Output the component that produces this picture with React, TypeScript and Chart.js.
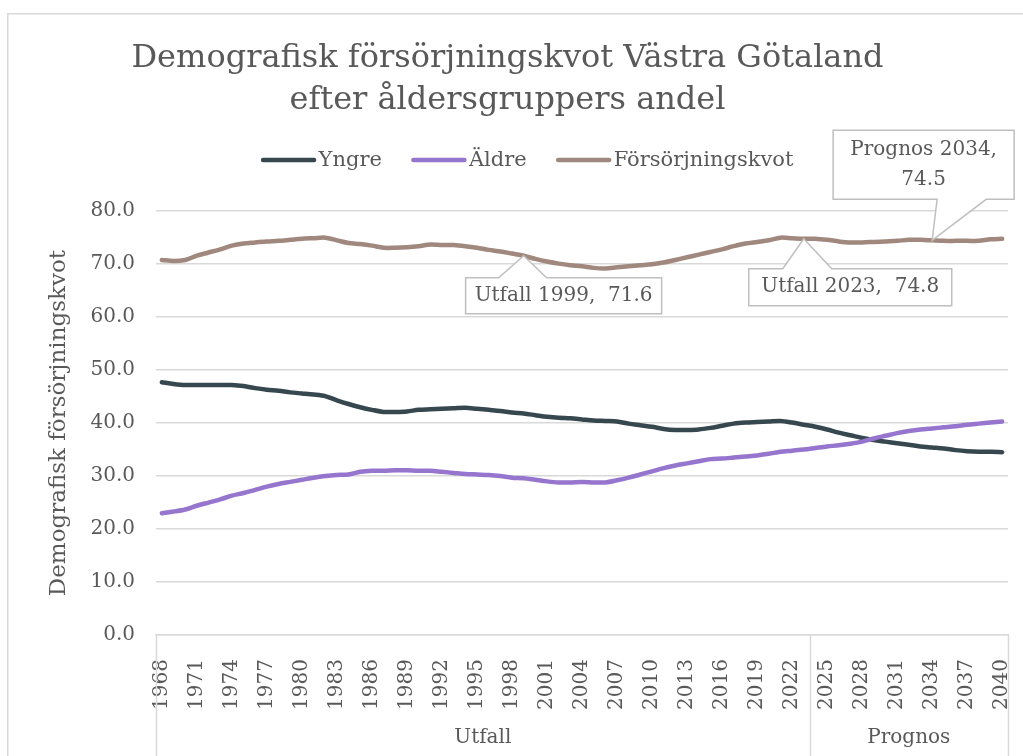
import React, { useEffect, useRef } from 'react';
import { Chart, registerables } from 'chart.js';

Chart.register(...registerables);

// ---------- data ----------
const years = [
  1968, 1969, 1970, 1971, 1972, 1973, 1974, 1975, 1976, 1977,
  1978, 1979, 1980, 1981, 1982, 1983, 1984, 1985, 1986, 1987,
  1988, 1989, 1990, 1991, 1992, 1993, 1994, 1995, 1996, 1997,
  1998, 1999, 2000, 2001, 2002, 2003, 2004, 2005, 2006, 2007,
  2008, 2009, 2010, 2011, 2012, 2013, 2014, 2015, 2016, 2017,
  2018, 2019, 2020, 2021, 2022, 2023, 2024, 2025, 2026, 2027,
  2028, 2029, 2030, 2031, 2032, 2033, 2034, 2035, 2036, 2037,
  2038, 2039, 2040,
];

const yngre = [
  47.7, 47.4, 47.2, 47.2, 47.2, 47.2, 47.2, 47.0, 46.6, 46.3,
  46.1, 45.8, 45.6, 45.4, 45.1, 44.3, 43.6, 43.0, 42.5, 42.1,
  42.1, 42.2, 42.5, 42.6, 42.7, 42.8, 42.9, 42.7, 42.5, 42.3,
  42.0, 41.8, 41.5, 41.2, 41.0, 40.9, 40.7, 40.5, 40.4, 40.3,
  39.9, 39.6, 39.3, 38.9, 38.7, 38.7, 38.8, 39.1, 39.5, 39.9,
  40.1, 40.2, 40.3, 40.4, 40.1, 39.7, 39.3, 38.8, 38.2, 37.7,
  37.2, 36.8, 36.5, 36.2, 35.9, 35.6, 35.4, 35.2, 34.9, 34.7,
  34.6, 34.6, 34.5,
];

const aldre = [
  23.0, 23.3, 23.7, 24.4, 25.0, 25.6, 26.3, 26.8, 27.4, 28.0,
  28.5, 28.9, 29.3, 29.7, 30.0, 30.2, 30.3, 30.8, 31.0, 31.0,
  31.1, 31.1, 31.0, 31.0, 30.8, 30.6, 30.4, 30.3, 30.2, 30.0,
  29.7, 29.6, 29.3, 29.0, 28.8, 28.8, 28.9, 28.8, 28.8, 29.2,
  29.7, 30.3, 30.9, 31.5, 32.0, 32.4, 32.8, 33.2, 33.3, 33.5,
  33.7, 33.9, 34.2, 34.6, 34.8, 35.0, 35.3, 35.6, 35.8, 36.1,
  36.5, 37.1, 37.6, 38.1, 38.5, 38.8, 39.0, 39.2, 39.4, 39.7,
  39.9, 40.1, 40.3,
];

const kvot = [
  70.8, 70.6, 70.8, 71.6, 72.2, 72.8, 73.5, 73.9, 74.1, 74.3,
  74.4, 74.6, 74.8, 74.9, 75.0, 74.5, 74.0, 73.8, 73.5, 73.1,
  73.1, 73.2, 73.4, 73.7, 73.6, 73.6, 73.4, 73.1, 72.7, 72.4,
  72.0, 71.6, 71.0, 70.5, 70.1, 69.8, 69.6, 69.3, 69.2, 69.4,
  69.6, 69.8, 70.0, 70.3, 70.8, 71.3, 71.8, 72.3, 72.8, 73.4,
  73.9, 74.2, 74.5, 75.0, 74.9, 74.8, 74.8, 74.6, 74.3, 74.1,
  74.1, 74.2, 74.3, 74.4, 74.6, 74.6, 74.5, 74.4, 74.4, 74.4,
  74.4, 74.7, 74.8,
];

const seriesNames = ['Yngre', 'Äldre', 'Försörjningskvot'];
const groupLabels = ['Utfall', 'Prognos'];
const groupStartYears = [1968, 2024];
const yTickValues = [0, 10, 20, 30, 40, 50, 60, 70, 80];
const calloutYears = [1999, 2023, 2034];

const titleLines = [
  'Demografisk försörjningskvot Västra Götaland',
  'efter åldersgruppers andel',
];
const yAxisTitle = 'Demografisk försörjningskvot';

// ---------- styles ----------
const FONT = '"DejaVu Serif", serif';
const TEXT = '#595959';
const GRID = '#D9D9D9';
const COLORS = ['#37474F', '#9575CD', '#A1887F'];

// callout geometry relative to the data point: [left, right, top, bottom], pointer base [from, to]
const calloutStyle: Record<number, { box: number[]; base: number[]; twoLines: boolean }> = {
  1999: { box: [-58, 138, 22, 58], base: [-25, 23], twoLines: false },
  2023: { box: [-55, 148, 30, 67], base: [-21, 28], twoLines: false },
  2034: { box: [-99, 82, -110, -41], base: [5, 54], twoLines: true },
};

const groupOf = (year: number) => {
  let g = 0;
  groupStartYears.forEach((s, i) => { if (year >= s) g = i; });
  return groupLabels[g];
};

const overlayPlugin = {
  id: 'overlay',
  beforeDraw(chart: any) {
    const { ctx, width, height } = chart;
    ctx.save();
    ctx.fillStyle = '#ffffff';
    ctx.fillRect(0, 0, width, height);
    ctx.strokeStyle = GRID;
    ctx.lineWidth = 1.5;
    ctx.strokeRect(0.75, 0.75, width + 10, height + 10);
    ctx.restore();
  },
  afterDraw(chart: any) {
    const { ctx, chartArea, height } = chart;
    const xs = chart.scales.x;

    // ----- legend -----
    ctx.save();
    ctx.font = `21px ${FONT}`;
    const lineLen = 56, gap = 2, itemGap = 29;
    const items = chart.data.datasets.map((ds: any) => ({
      label: ds.label, color: ds.borderColor, w: ctx.measureText(ds.label).width,
    }));
    const total = items.reduce((s: number, it: any) => s + lineLen + gap + it.w, 0) + itemGap * (items.length - 1);
    let lx = 520 - total / 2;
    const ly = 147;
    items.forEach((it: any) => {
      ctx.strokeStyle = it.color;
      ctx.lineWidth = 4.5;
      ctx.lineCap = 'round';
      ctx.beginPath();
      ctx.moveTo(lx + 2.5, ly);
      ctx.lineTo(lx + lineLen - 2.5, ly);
      ctx.stroke();
      ctx.fillStyle = TEXT;
      ctx.textBaseline = 'middle';
      ctx.textAlign = 'left';
      ctx.fillText(it.label, lx + lineLen + gap, ly + 1);
      lx += lineLen + gap + it.w + itemGap;
    });
    ctx.restore();

    // ----- multi-level category separators and group labels -----
    const step = xs.getPixelForValue(1) - xs.getPixelForValue(0);
    const bounds: number[] = groupStartYears.map((y) => xs.getPixelForValue(years.indexOf(y)) - step / 2);
    bounds.push(xs.getPixelForValue(years.length - 1) + step / 2);
    ctx.save();
    ctx.strokeStyle = GRID;
    ctx.lineWidth = 1.5;
    bounds.forEach((bx) => {
      const px = Math.round(bx) + 0.5;
      ctx.beginPath();
      ctx.moveTo(px, chartArea.bottom);
      ctx.lineTo(px, height);
      ctx.stroke();
    });
    ctx.fillStyle = TEXT;
    ctx.font = `20px ${FONT}`;
    ctx.textAlign = 'center';
    ctx.textBaseline = 'middle';
    groupLabels.forEach((g, i) => {
      ctx.fillText(g, (bounds[i] + bounds[i + 1]) / 2, 725);
    });
    ctx.restore();

    // ----- callouts -----
    const meta = chart.getDatasetMeta(2);
    calloutYears.forEach((yr) => {
      const idx = years.indexOf(yr);
      const pt = meta.data[idx];
      const tx = pt.x, ty = pt.y;
      const st = calloutStyle[yr];
      const L = tx + st.box[0], R = tx + st.box[1], T = ty + st.box[2], B = ty + st.box[3];
      const b0 = tx + st.base[0], b1 = tx + st.base[1];
      ctx.save();
      ctx.beginPath();
      if (st.box[2] > 0) {
        ctx.moveTo(L, T);
        ctx.lineTo(b0, T);
        ctx.lineTo(tx, ty);
        ctx.lineTo(b1, T);
        ctx.lineTo(R, T);
        ctx.lineTo(R, B);
        ctx.lineTo(L, B);
      } else {
        ctx.moveTo(L, T);
        ctx.lineTo(R, T);
        ctx.lineTo(R, B);
        ctx.lineTo(b1, B);
        ctx.lineTo(tx, ty);
        ctx.lineTo(b0, B);
        ctx.lineTo(L, B);
      }
      ctx.closePath();
      ctx.fillStyle = '#ffffff';
      ctx.fill();
      ctx.strokeStyle = '#BFBFBF';
      ctx.lineWidth = 1.5;
      ctx.stroke();
      ctx.fillStyle = TEXT;
      ctx.font = `20px ${FONT}`;
      ctx.textAlign = 'center';
      ctx.textBaseline = 'middle';
      const val = (chart.data.datasets[2].data[idx] as number).toFixed(1);
      const head = `${groupOf(yr)} ${yr},`;
      const cx = (L + R) / 2;
      if (st.twoLines) {
        ctx.fillText(head, cx, (T + B) / 2 - 15);
        ctx.fillText(val, cx, (T + B) / 2 + 15);
      } else {
        ctx.fillText(`${head}  ${val}`, cx, (T + B) / 2);
      }
      ctx.restore();
    });
  },
};

export default function App() {
  const ref = useRef<HTMLCanvasElement | null>(null);

  useEffect(() => {
    if (!ref.current) return;
    Chart.defaults.font.family = FONT;
    Chart.defaults.color = TEXT;
    const seriesData = [yngre, aldre, kvot];
    const chart = new Chart(ref.current, {
      type: 'line',
      data: {
        labels: years.map(String),
        datasets: seriesNames.map((name, i) => ({
          label: name,
          data: seriesData[i],
          borderColor: COLORS[i],
          backgroundColor: COLORS[i],
          borderWidth: 4.5,
          borderCapStyle: 'round',
          borderJoinStyle: 'round',
          pointRadius: 0,
          pointHoverRadius: 0,
          tension: 0.3,
          fill: false,
          order: 3 - i,
        })),
      },
      options: {
        responsive: false,
        animation: false,
        devicePixelRatio: 1,
        layout: { padding: { left: 0, right: 29, top: 0, bottom: 0 } },
        plugins: {
          legend: { display: false },
          tooltip: { enabled: false },
          title: {
            display: true,
            text: titleLines,
            color: TEXT,
            font: { family: FONT, size: 32, weight: 'normal', lineHeight: 1.3 },
            padding: { top: 25, bottom: 90 },
          },
        },
        scales: {
          x: {
            type: 'category',
            offset: true,
            grid: { display: false, drawTicks: false },
            border: { display: true, color: GRID, width: 1.5 },
            ticks: {
              autoSkip: false,
              maxRotation: 90,
              minRotation: 90,
              padding: 24,
              color: TEXT,
              font: { family: FONT, size: 20 },
              callback: (_v: any, i: number) => (i % 3 === 0 ? String(years[i]) : ''),
            },
            afterFit: (s: any) => { s.height = 138; s.paddingLeft = 0; s.paddingRight = 0; },
          },
          y: {
            min: 0,
            max: 80,
            afterBuildTicks: (s: any) => { s.ticks = yTickValues.map((v) => ({ value: v })); },
            grid: { color: GRID, lineWidth: 1.5, drawTicks: false },
            border: { display: false },
            ticks: {
              padding: 21,
              color: TEXT,
              font: { family: FONT, size: 20 },
              callback: (v: any) => Number(v).toFixed(1),
            },
            title: {
              display: true,
              text: yAxisTitle,
              color: TEXT,
              font: { family: FONT, size: 23 },
              padding: { top: 38, bottom: 0 },
            },
            afterFit: (s: any) => { s.width = 149; },
          },
        },
      },
      plugins: [overlayPlugin],
    } as any);
    return () => chart.destroy();
  }, []);

  return (
    <div style={{ position: 'fixed', left: 0, top: 0, width: 1023, height: 756, overflow: 'hidden', background: '#fff' }}>
      <canvas ref={ref} width={1030} height={760} style={{ position: 'absolute', left: 7, top: 13 }} />
    </div>
  );
}
